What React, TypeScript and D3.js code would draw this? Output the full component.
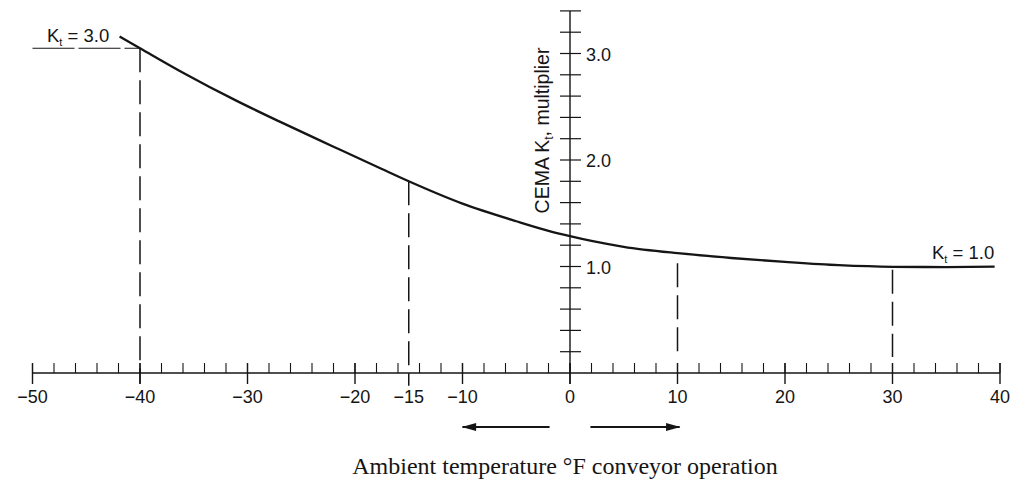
import React from "react";
import * as d3 from "d3";

// ---- data ----
const curveTemps = [-41.9, -40, -36, -31, -27, -22, -17.5, -15, -10, -5, -2, 0, 2, 5, 10, 15, 20, 25, 30, 35, 39.5];
const curveKt = [3.16, 3.05, 2.82, 2.555, 2.36, 2.125, 1.915, 1.8, 1.59, 1.425, 1.335, 1.285, 1.24, 1.185, 1.125, 1.08, 1.043, 1.012, 0.997, 0.995, 0.998];

const xMajorTicks = [-50, -40, -30, -20, -10, 0, 10, 20, 30, 40];
const xLabelTicks = [-50, -40, -30, -20, -15, -10, 0, 10, 20, 30, 40];
const yLabelTicks = [1.0, 2.0, 3.0];

const dropTemps = [-40, -15, 10, 30];
const dropTop = [3.05, 1.8, 1.03, 0.97];
const dropBottom = [-0.1, -0.12, 0.19, 0.15];

const W = 1012;
const H = 480;

export default function App() {
  const x = d3.scaleLinear().domain([-50, 40]).range([32.5, 1000]);
  const y = d3.scaleLinear().domain([0, 3.4]).range([373, 373 - 3.4 * 106.5]);

  const line = d3
    .line<number>()
    .x((_, i) => x(curveTemps[i]))
    .y((d) => y(d))
    .curve(d3.curveMonotoneX);

  const minorX = d3.range(-50, 40.1, 2);
  const minorY = d3.range(0.2, 3.41, 0.2);
  const fmt = d3.format("d");
  const fmtY = d3.format(".1f");
  const ink = "#151515";
  const sans = "'Liberation Sans', Arial, sans-serif";

  const arrowY = 427;

  return (
    <svg
      width={W}
      height={H}
      viewBox={`0 0 ${W} ${H}`}
      style={{ position: "fixed", left: 0, top: 0, background: "#fff" }}
    >
      <defs>
        <marker id="ah2" viewBox="0 0 18 10" refX="17" refY="5" markerWidth="18" markerHeight="8" orient="auto" markerUnits="userSpaceOnUse">
          <path d="M0,0 L18,5 L0,10 z" fill={ink} />
        </marker>
      </defs>

      {/* x axis */}
      <line x1={x(-50)} x2={x(40)} y1={y(0)} y2={y(0)} stroke={ink} strokeWidth={1.4} />
      {minorX.map((t) => (
        <line key={"mx" + t} x1={x(t)} x2={x(t)} y1={y(0) - 10} y2={y(0)} stroke={ink} strokeWidth={1.1} />
      ))}
      {xMajorTicks.map((t) => (
        <line key={"Mx" + t} x1={x(t)} x2={x(t)} y1={y(0) - 10} y2={y(0) + 11} stroke={ink} strokeWidth={1.4} />
      ))}
      {xLabelTicks.map((t) => (
        <text key={"lx" + t} x={x(t)} y={403} textAnchor="middle" fontFamily={sans} fontSize={18} fill={ink}>
          {fmt(t)}
        </text>
      ))}

      {/* y axis */}
      <line x1={x(0)} x2={x(0)} y1={y(3.4)} y2={y(0) + 11} stroke={ink} strokeWidth={1.4} />
      {minorY.map((v) => (
        <line key={"my" + v} x1={x(0) - 10} x2={x(0) + 11} y1={y(v)} y2={y(v)} stroke={ink} strokeWidth={1.2} />
      ))}
      {yLabelTicks.map((v) => (
        <text key={"ly" + v} x={x(0) + 16} y={y(v) + 7} fontFamily={sans} fontSize={18} fill={ink}>
          {fmtY(v)}
        </text>
      ))}
      <text
        transform={`translate(${549},${130.5}) rotate(-90)`}
        textAnchor="middle"
        fontFamily={sans}
        fontSize={19.5}
        fill={ink}
      >
        CEMA K
        <tspan fontSize={12} dy={4}>t</tspan>
        <tspan dy={-4}>, multiplier</tspan>
      </text>

      {/* dashed reference lines */}
      <line
        x1={x(-50)}
        x2={x(-40)}
        y1={y(dropTop[0])}
        y2={y(dropTop[0])}
        stroke={ink}
        strokeWidth={1.1}
        strokeDasharray="42,4"
      />
      {dropTemps.map((t, i) => (
        <line
          key={"d" + t}
          x1={x(t)}
          x2={x(t)}
          y1={y(dropTop[i])}
          y2={y(dropBottom[i])}
          stroke={ink}
          strokeWidth={1.5}
          strokeDasharray="24,8"
        />
      ))}

      {/* curve */}
      <path d={line(curveKt) || ""} fill="none" stroke={ink} strokeWidth={2.3} />

      {/* annotations */}
      <text x={47} y={41.5} fontFamily={sans} fontSize={18.5} fill={ink}>
        K<tspan fontSize={11} dy={4}>t</tspan>
        <tspan dy={-4}> = 3.0</tspan>
      </text>
      <text x={932} y={258.5} fontFamily={sans} fontSize={18.5} fill={ink}>
        K<tspan fontSize={11} dy={4}>t</tspan>
        <tspan dy={-4}> = 1.0</tspan>
      </text>

      {/* direction arrows */}
      <line x1={x(-1.9)} x2={x(-10)} y1={arrowY} y2={arrowY} stroke={ink} strokeWidth={2} markerEnd="url(#ah2)" />
      <line x1={x(1.9)} x2={x(10.2)} y1={arrowY} y2={arrowY} stroke={ink} strokeWidth={2} markerEnd="url(#ah2)" />

      {/* title */}
      <text x={565} y={474} textAnchor="middle" fontFamily="'Liberation Serif', 'Times New Roman', serif" fontSize={24} fill={ink}>
        Ambient temperature °F conveyor operation
      </text>
    </svg>
  );
}
